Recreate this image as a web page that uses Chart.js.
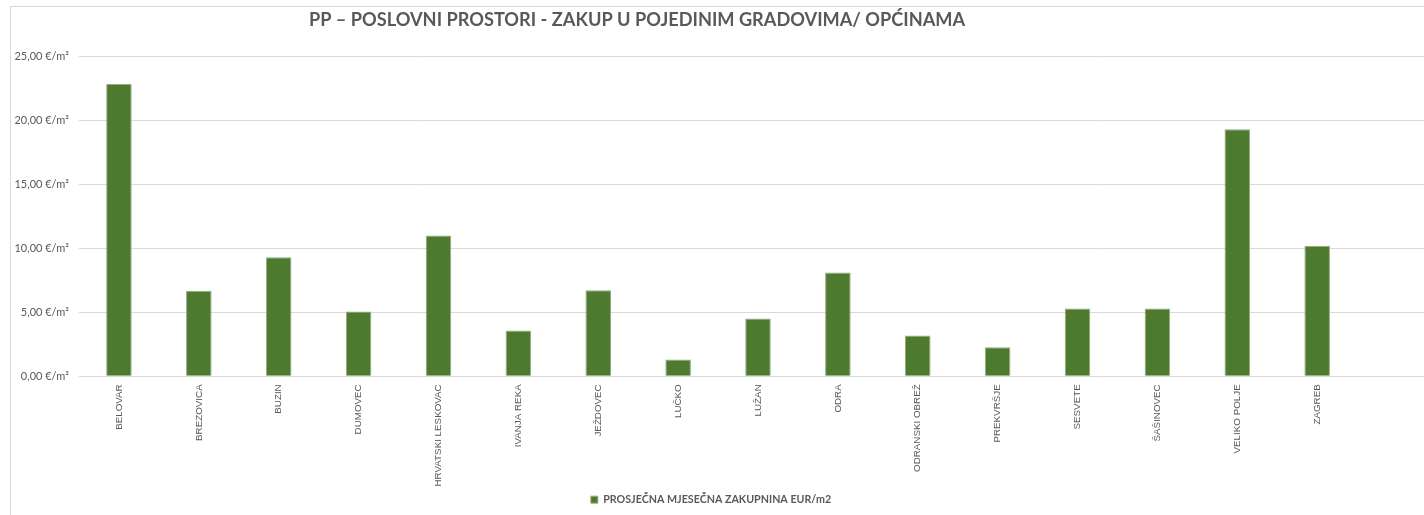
<!DOCTYPE html>
<html><head><meta charset="utf-8">
<script src="https://cdn.jsdelivr.net/npm/chart.js@4"></script>
<style>
html,body{margin:0;padding:0;background:#fff;overflow:hidden}
#wrap{position:relative;width:1424px;height:515px;overflow:hidden;background:#fff}
#frame{position:absolute;left:10px;top:6px;width:1500px;height:600px;border:1px solid #d9d9d9}
#holder{position:absolute;left:0;top:0;width:1437px;height:515px}
</style></head>
<body>
<div id="wrap"><div id="frame"></div><div id="holder"><canvas id="c" width="1437" height="515"></canvas></div></div>
<script>
const titleText = 'PP – POSLOVNI PROSTORI - ZAKUP U POJEDINIM GRADOVIMA/ OPĆINAMA';
const seriesName = 'PROSJEČNA MJESEČNA ZAKUPNINA EUR/m2';
const categories = ['BELOVAR','BREZOVICA','BUZIN','DUMOVEC','HRVATSKI LESKOVAC','IVANJA REKA','JEŽDOVEC','LUČKO','LUŽAN','ODRA','ODRANSKI OBREŽ','PREKVRŠJE','SESVETE','ŠAŠINOVEC','VELIKO POLJE','ZAGREB',''];
const rentValues = [22.82,6.68,9.29,5.06,10.98,3.58,6.72,1.32,4.52,8.10,3.19,2.26,5.30,5.30,19.29,10.18,null];
const yTicks = [0,5,10,15,20,25];

const titlePlugin = {
  id: 'customTitle',
  afterLayout(chart) {
    const l = chart.legend;
    if (l) { l.left -= 13; l.right -= 13; }
  },
  afterDraw(chart) {
    const c = chart.ctx;
    c.save();
    c.font = 'bold 18.2px Lato';
    c.fillStyle = '#595959';
    c.textAlign = 'center';
    c.textBaseline = 'middle';
    c.fillText(titleText, 637, 20);
    c.restore();
  }
};

new Chart(document.getElementById('c'), {
  type: 'bar',
  data: {
    labels: categories,
    datasets: [{
      label: seriesName,
      data: rentValues,
      backgroundColor: '#4e7a30',
      borderColor: '#93ad7e',
      borderWidth: 1,
      categoryPercentage: 1,
      barPercentage: 0.32
    }]
  },
  options: {
    responsive: false,
    animation: false,
    layout: { padding: { left: 11, top: 56, right: 0, bottom: 0 } },
    plugins: {
      title: { display: false },
      tooltip: { enabled: false },
      legend: {
        position: 'bottom',
        labels: {
          boxWidth: 7, boxHeight: 7, padding: 5,
          color: '#595959',
          font: { family: 'Lato', size: 10.7, weight: 'bold' }
        }
      }
    },
    scales: {
      y: {
        min: 0, max: 25,
        afterBuildTicks: s => { s.ticks = yTicks.map(v => ({ value: v })); },
        afterFit: s => { s.width = 68; },
        ticks: {
          padding: 10,
          color: '#595959',
          font: { family: 'Lato', size: 11 },
          callback: v => v.toFixed(2).replace('.', ',') + ' €/m²'
        },
        grid: { color: '#d9d9d9', drawTicks: false },
        border: { display: false }
      },
      x: {
        afterFit: s => { s.height = 113; },
        ticks: {
          autoSkip: false, maxRotation: 90, minRotation: 90, padding: 8,
          color: '#595959',
          font: { family: 'Liberation Sans', size: 9.8 }
        },
        grid: { display: false, drawTicks: false },
        border: { display: false }
      }
    }
  },
  plugins: [titlePlugin]
});
</script>
</body></html>
